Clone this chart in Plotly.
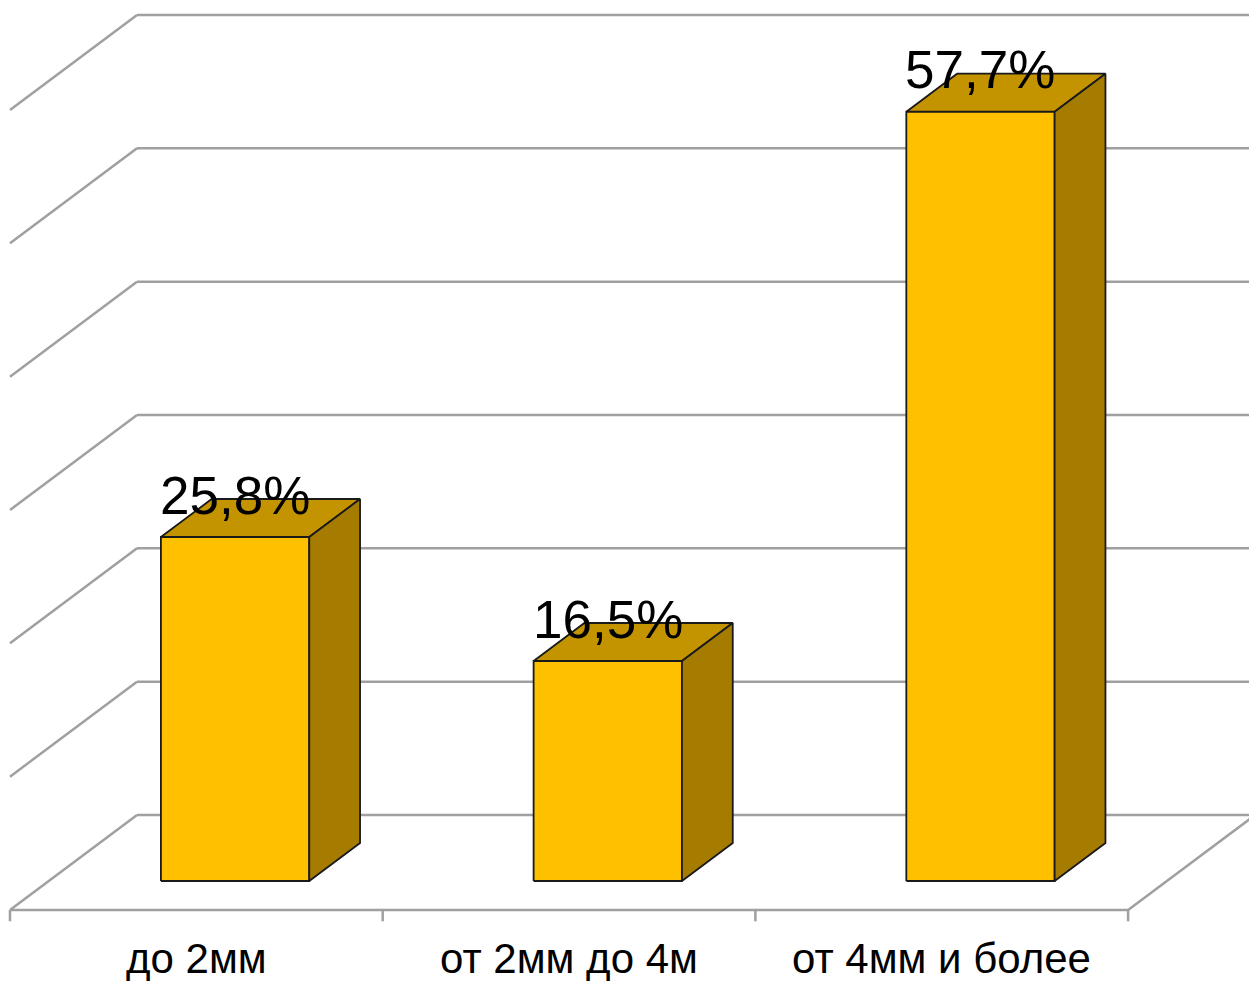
import plotly.graph_objects as go

# Data
categories = ["до 2мм", "от 2мм до 4м", "от 4мм и более"]
values = [25.8, 16.5, 57.7]
labels = ["25,8%", "16,5%", "57,7%"]
grid_levels = [0, 10, 20, 30, 40, 50, 60]

# Oblique projection of the 3D box: depth z in [0, 1] shifts points right and up
DX = 0.3408      # x shift (category units) for full depth
DY = 7.125       # y shift (percent units) for full depth
Z_FRONT, Z_BACK = 0.305, 0.705
HALF_W = 0.199

FRONT = "#FFC000"
TOP = "#C49400"
SIDE = "#A67C00"
GRID = "#A0A0A0"


def proj(x, v, z):
    return x + DX * z, v + DY * z


fig = go.Figure()

# Back wall, side wall and floor grid lines
gx, gy = [], []
x_left, x_right = -0.5, len(categories) - 0.5
for v in grid_levels:
    for (xa, za), (xb, zb) in [((x_left, 0), (x_left, 1)), ((x_left, 1), (x_right, 1))]:
        p, q = proj(xa, v, za), proj(xb, v, zb)
        gx += [p[0], q[0], None]
        gy += [p[1], q[1], None]
# floor front edge and right floor edge
for (xa, za), (xb, zb) in [((x_left, 0), (x_right, 0)), ((x_right, 0), (x_right, 1))]:
    p, q = proj(xa, 0, za), proj(xb, 0, zb)
    gx += [p[0], q[0], None]
    gy += [p[1], q[1], None]
# category tick marks
for k in range(len(categories) + 1):
    xt = x_left + k
    gx += [xt, xt, None]
    gy += [0, -0.85, None]

fig.add_trace(go.Scatter(x=gx, y=gy, mode="lines",
                         line=dict(color=GRID, width=2.5),
                         hoverinfo="skip", showlegend=False))

# Bars as three visible faces each
for i, v in enumerate(values):
    x0, x1 = i - HALF_W, i + HALF_W
    faces = [
        (FRONT, [proj(x0, 0, Z_FRONT), proj(x1, 0, Z_FRONT), proj(x1, v, Z_FRONT), proj(x0, v, Z_FRONT)]),
        (TOP, [proj(x0, v, Z_FRONT), proj(x1, v, Z_FRONT), proj(x1, v, Z_BACK), proj(x0, v, Z_BACK)]),
        (SIDE, [proj(x1, 0, Z_FRONT), proj(x1, 0, Z_BACK), proj(x1, v, Z_BACK), proj(x1, v, Z_FRONT)]),
    ]
    for color, pts in faces:
        xs = [p[0] for p in pts] + [pts[0][0]]
        ys = [p[1] for p in pts] + [pts[0][1]]
        fig.add_trace(go.Scatter(x=xs, y=ys, mode="lines", fill="toself",
                                 fillcolor=color, line=dict(color="#1a1a1a", width=1.8),
                                 hoverinfo="skip", showlegend=False))
    fx, fy = proj(i, v, Z_FRONT)
    fig.add_annotation(x=fx, y=fy, text=labels[i], showarrow=False,
                       xanchor="center", yanchor="middle", yshift=42,
                       font=dict(family="Liberation Sans, Arial", size=53, color="black"))

# Category labels under the floor
for i, c in enumerate(categories):
    fig.add_annotation(x=i, y=-3.6, text=c, showarrow=False,
                       xanchor="center", yanchor="middle",
                       font=dict(family="Liberation Sans, Arial", size=42, color="black"))

fig.update_layout(
    width=1249, height=981,
    margin=dict(l=0, r=0, t=0, b=0),
    paper_bgcolor="white", plot_bgcolor="white",
    xaxis=dict(range=[-0.5268, 2.8244], visible=False, fixedrange=True),
    yaxis=dict(range=[-5.325, 68.25], visible=False, fixedrange=True),
)

fig.write_html("out.html")
